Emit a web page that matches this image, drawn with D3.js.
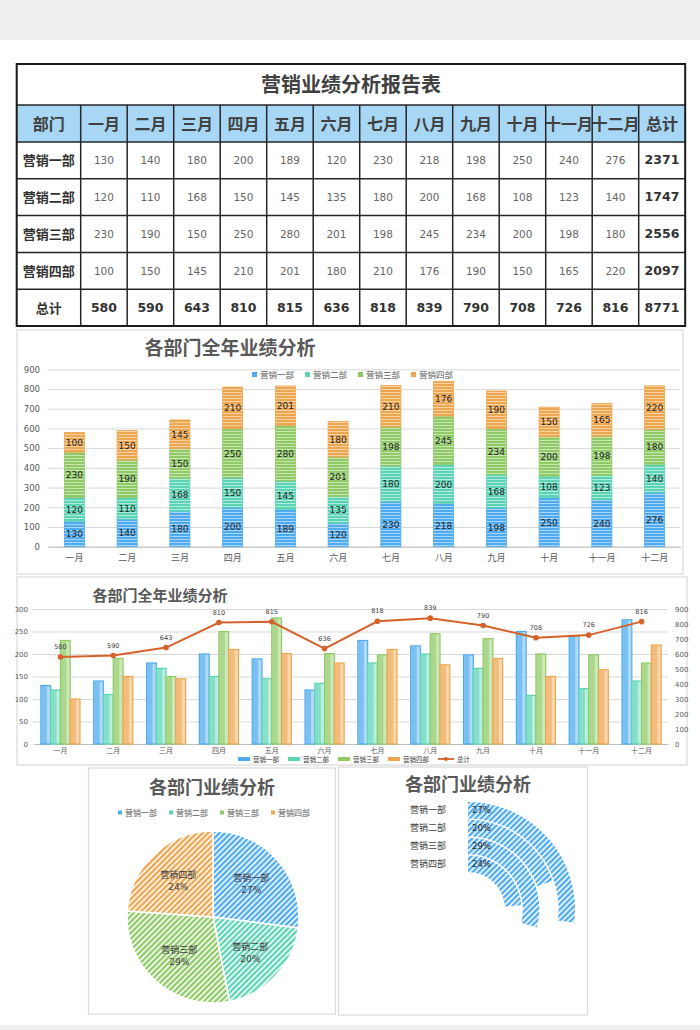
<!DOCTYPE html>
<html>
<head>
<meta charset="utf-8">
<script src="https://cdnjs.cloudflare.com/ajax/libs/d3/7.8.5/d3.min.js"></script>
<style>
  body { margin: 0; background: #fff; }
  svg { display: block; font-family: "Noto Sans CJK SC", sans-serif; }
</style>
</head>
<body>
<div id="chart"></div>
<script>
var months = ["一月", "二月", "三月", "四月", "五月", "六月", "七月", "八月", "九月", "十月", "十一月", "十二月"];
var depts = ["营销一部", "营销二部", "营销三部", "营销四部"];
var dept1 = [130, 140, 180, 200, 189, 120, 230, 218, 198, 250, 240, 276];
var dept2 = [120, 110, 168, 150, 145, 135, 180, 200, 168, 108, 123, 140];
var dept3 = [230, 190, 150, 250, 280, 201, 198, 245, 234, 200, 198, 180];
var dept4 = [100, 150, 145, 210, 201, 180, 210, 176, 190, 150, 165, 220];
var monthTotals = [580, 590, 643, 810, 815, 636, 818, 839, 790, 708, 726, 816];
var deptTotals = [2371, 1747, 2556, 2097];
var grandTotal = 8771;
var leftTicks = [0, 50, 100, 150, 200, 250, 300];
var totalTicks = [0, 100, 200, 300, 400, 500, 600, 700, 800, 900];

var deptSeries = [dept1, dept2, dept3, dept4];
var colors = ["#4fabef", "#5cd3b5", "#8fca67", "#eda650"];
var lightColors = ["#a9d6f7", "#b0ecdc", "#c7e6b1", "#f7d3a4"];
var lineColor = "#d6622b";
var gray = "#595959";
var numFont = "'DejaVu Sans', 'Noto Sans CJK SC', sans-serif";

var svg = d3.select("#chart").append("svg")
    .attr("width", 700).attr("height", 1030);

// page bands
svg.append("rect").attr("x", 0).attr("y", 0).attr("width", 700).attr("height", 40).attr("fill", "#efefef");
svg.append("rect").attr("x", 0).attr("y", 1025).attr("width", 700).attr("height", 5).attr("fill", "#efefef");

// ---- patterns ----
var defs = svg.append("defs");
colors.forEach(function (c, i) {
    // horizontal stripes for bars
    var p = defs.append("pattern").attr("id", "hs" + i)
        .attr("patternUnits", "userSpaceOnUse").attr("width", 6).attr("height", 3);
    p.append("rect").attr("width", 6).attr("height", 3).attr("fill", c);
    p.append("rect").attr("y", 2).attr("width", 6).attr("height", 1).attr("fill", lightColors[i]);
    // diagonal hatch for pie / rings
    var q = defs.append("pattern").attr("id", "dg" + i)
        .attr("patternUnits", "userSpaceOnUse").attr("width", 4).attr("height", 4)
        .attr("patternTransform", "rotate(45)");
    q.append("rect").attr("width", 4).attr("height", 4).attr("fill", "#fff");
    q.append("rect").attr("width", 2.4).attr("height", 4).attr("fill", c);
});

// ================= table =================
(function () {
    var x0 = 16.7, firstW = 64, colW = 46.5;
    var titleTop = 64, headTop = 105, headH = 37, rowH = 36.8;
    var cols = ["部门"].concat(months).concat(["总计"]);
    var right = x0 + firstW + colW * (cols.length - 1);
    var colX = function (i) { return i === 0 ? x0 : x0 + firstW + colW * (i - 1); };
    var colWidth = function (i) { return i === 0 ? firstW : colW; };

    var g = svg.append("g");
    var rows = depts.map(function (d, i) {
        return [d].concat(deptSeries[i]).concat([deptTotals[i]]);
    });
    rows.push(["总计"].concat(monthTotals).concat([grandTotal]));

    // header fill
    g.append("rect").attr("x", x0).attr("y", headTop).attr("width", right - x0).attr("height", headH)
        .attr("fill", "#a7d7f4");

    // title
    g.append("text").attr("x", (x0 + right) / 2).attr("y", (titleTop + headTop) / 2 + 7)
        .attr("text-anchor", "middle").attr("font-size", 20).attr("font-weight", "bold")
        .attr("fill", "#404040").text("营销业绩分析报告表");

    // header labels
    g.selectAll(".hd").data(cols).enter().append("text")
        .attr("x", function (d, i) { return colX(i) + colWidth(i) / 2; })
        .attr("y", headTop + headH / 2 + 6)
        .attr("text-anchor", "middle").attr("font-size", 16).attr("font-weight", "bold")
        .attr("fill", "#404040").text(function (d) { return d; });

    // body cells
    rows.forEach(function (r, ri) {
        var y = headTop + headH + rowH * ri + rowH / 2;
        var isTotal = ri === rows.length - 1;
        g.selectAll(".c" + ri).data(r).enter().append("text")
            .attr("x", function (d, i) { return colX(i) + colWidth(i) / 2; })
            .attr("y", function (d, i) { return y + (i === 0 ? 5 : 4); })
            .attr("text-anchor", "middle")
            .attr("font-family", function (d, i) { return i === 0 ? null : numFont; })
            .attr("font-size", function (d, i) {
                if (i === 0) return 13;
                return (isTotal || i === r.length - 1) ? 12.5 : 10.5;
            })
            .attr("font-weight", function (d, i) {
                return (i === 0 || isTotal || i === r.length - 1) ? "bold" : "normal";
            })
            .attr("fill", function (d, i) {
                return (i === 0 || isTotal || i === r.length - 1) ? "#333" : "#666";
            })
            .text(function (d) { return d; });
    });

    // grid lines
    var bottom = headTop + headH + rowH * rows.length;
    var hy = [headTop].concat(d3.range(rows.length + 1).map(function (i) { return headTop + headH + rowH * i; }));
    g.selectAll(".hl").data(hy).enter().append("line")
        .attr("x1", x0).attr("x2", right).attr("y1", function (d) { return d; }).attr("y2", function (d) { return d; })
        .attr("stroke", "#262626").attr("stroke-width", 1.5);
    g.selectAll(".vl").data(d3.range(1, cols.length)).enter().append("line")
        .attr("x1", colX).attr("x2", colX).attr("y1", headTop).attr("y2", bottom)
        .attr("stroke", "#262626").attr("stroke-width", 1.5);
    g.append("rect").attr("x", x0).attr("y", titleTop).attr("width", right - x0).attr("height", bottom - titleTop)
        .attr("fill", "none").attr("stroke", "#1a1a1a").attr("stroke-width", 2);
})();

// helper: box
function box(x, y, w, h) {
    svg.append("rect").attr("x", x).attr("y", y).attr("width", w).attr("height", h)
        .attr("fill", "#fff").attr("stroke", "#d9d9d9").attr("stroke-width", 1.2);
}

// ================= stacked column chart =================
(function () {
    box(17, 330, 666, 244);
    var g = svg.append("g");
    var y = d3.scaleLinear().domain([0, 900]).range([546.7, 369.3]);
    var x = d3.scaleBand().domain(months).range([48, 681]).paddingInner(0.62).paddingOuter(0.31);

    g.append("text").attr("x", 230).attr("y", 355).attr("text-anchor", "middle")
        .attr("font-size", 19).attr("font-weight", "bold").attr("fill", gray).text("各部门全年业绩分析");

    var ya = g.append("g").attr("transform", "translate(48,0)")
        .call(d3.axisLeft(y).tickValues(totalTicks).tickSize(-632).tickPadding(8));
    ya.select(".domain").remove();
    ya.selectAll(".tick line").attr("stroke", "#d9d9d9");
    ya.selectAll(".tick text").attr("font-size", 8.5).attr("font-family", numFont).attr("fill", gray);

    var xa = g.append("g").attr("transform", "translate(0,546.7)")
        .call(d3.axisBottom(x).tickSize(0).tickPadding(8));
    xa.select(".domain").attr("stroke", "#bfbfbf");
    xa.selectAll(".tick text").attr("font-size", 9).attr("fill", gray).attr("font-family", "'Noto Sans CJK SC', sans-serif");

    var table = months.map(function (m, i) {
        var o = { month: m };
        depts.forEach(function (d, j) { o[d] = deptSeries[j][i]; });
        return o;
    });
    var stacked = d3.stack().keys(depts)(table);

    var layers = g.selectAll(".layer").data(stacked).enter().append("g");
    layers.each(function (s, si) {
        var lg = d3.select(this);
        lg.selectAll("rect").data(s).enter().append("rect")
            .attr("x", function (d) { return x(d.data.month); })
            .attr("width", x.bandwidth())
            .attr("y", function (d) { return y(d[1]); })
            .attr("height", function (d) { return y(d[0]) - y(d[1]); })
            .attr("fill", "url(#hs" + si + ")")
            .attr("stroke", colors[si]).attr("stroke-width", 0.8);
        lg.selectAll("text").data(s).enter().append("text")
            .attr("x", function (d) { return x(d.data.month) + x.bandwidth() / 2; })
            .attr("y", function (d) { return (y(d[0]) + y(d[1])) / 2 + 3.5; })
            .attr("text-anchor", "middle").attr("font-size", 9).attr("font-family", numFont)
            .attr("fill", "#262626").text(function (d) { return d.data[s.key]; });
    });

    var leg = g.selectAll(".lg").data(depts).enter().append("g")
        .attr("transform", function (d, i) { return "translate(" + (252 + i * 53) + ",375)"; });
    leg.append("rect").attr("x", 0).attr("y", -3).attr("width", 5).attr("height", 5)
        .attr("fill", function (d, i) { return colors[i]; });
    leg.append("text").attr("x", 8).attr("y", 3).attr("font-size", 8.5).attr("fill", gray)
        .text(function (d) { return d; });
})();

// ================= clustered column + line chart =================
(function () {
    box(17, 577, 670, 188);
    var g = svg.append("g");
    var yL = d3.scaleLinear().domain([0, 300]).range([744, 609]);
    var yR = d3.scaleLinear().domain([0, 900]).range([744, 609]);
    var x = d3.scaleBand().domain(months).range([34, 668]).paddingInner(0.26).paddingOuter(0.13);
    var xi = d3.scaleBand().domain(depts).range([0, x.bandwidth()]);

    g.append("text").attr("x", 160).attr("y", 601).attr("text-anchor", "middle")
        .attr("font-size", 15).attr("font-weight", "bold").attr("fill", gray).text("各部门全年业绩分析");

    var ya = g.append("g").attr("transform", "translate(33,0)")
        .call(d3.axisLeft(yL).tickValues(leftTicks).tickSize(-635).tickPadding(5));
    ya.select(".domain").remove();
    ya.selectAll(".tick line").attr("stroke", "#d9d9d9");
    ya.selectAll(".tick text").attr("font-size", 7).attr("font-family", numFont).attr("fill", gray);

    var yb = g.append("g").attr("transform", "translate(668,0)")
        .call(d3.axisRight(yR).tickValues(totalTicks).tickSize(0).tickPadding(7));
    yb.select(".domain").remove();
    yb.selectAll(".tick text").attr("font-size", 7).attr("font-family", numFont).attr("fill", gray);

    var xa = g.append("g").attr("transform", "translate(0,744)")
        .call(d3.axisBottom(x).tickSize(0).tickPadding(4));
    xa.select(".domain").attr("stroke", "#bfbfbf");
    xa.selectAll(".tick text").attr("font-size", 7).attr("fill", gray).attr("font-family", "'Noto Sans CJK SC', sans-serif");

    depts.forEach(function (d, j) {
        g.append("g").selectAll("rect").data(deptSeries[j]).enter().append("rect")
            .attr("x", function (v, i) { return x(months[i]) + xi(d); })
            .attr("width", xi.bandwidth())
            .attr("y", function (v) { return yL(v); })
            .attr("height", function (v) { return yL(0) - yL(v); })
            .attr("fill", lightColors[j]).attr("fill-opacity", 0.9)
            .attr("stroke", colors[j]).attr("stroke-width", 1.2);
        g.append("g").selectAll("rect").data(deptSeries[j]).enter().append("rect")
            .attr("x", function (v, i) { return x(months[i]) + xi(d) + 0.6; })
            .attr("width", xi.bandwidth() * 0.55)
            .attr("y", function (v) { return yL(v) + 0.6; })
            .attr("height", function (v) { return yL(0) - yL(v) - 0.6; })
            .attr("fill", colors[j]).attr("fill-opacity", 0.55);
    });

    var cx = function (d, i) { return x(months[i]) + x.bandwidth() / 2; };
    var line = d3.line().x(cx).y(function (d) { return yR(d); });
    g.append("path").datum(monthTotals).attr("d", line)
        .attr("fill", "none").attr("stroke", lineColor).attr("stroke-width", 2);
    g.selectAll(".pt").data(monthTotals).enter().append("circle")
        .attr("cx", cx).attr("cy", function (d) { return yR(d); }).attr("r", 2.8).attr("fill", lineColor);
    g.selectAll(".pl").data(monthTotals).enter().append("text")
        .attr("x", cx).attr("y", function (d) { return yR(d) - 8; })
        .attr("text-anchor", "middle").attr("font-size", 6.5).attr("font-family", numFont)
        .attr("fill", "#404040").text(function (d) { return d; });

    // legend sits just under the month labels
    var legItems = depts.concat(["总计"]);
    var leg = g.selectAll(".lg").data(legItems).enter().append("g")
        .attr("transform", function (d, i) { return "translate(" + (238 + i * 50) + ",759)"; });
    leg.each(function (d, i) {
        var l = d3.select(this);
        if (i < 4) {
            l.append("rect").attr("x", 0).attr("y", -2).attr("width", 12).attr("height", 4).attr("fill", colors[i]);
        } else {
            l.append("line").attr("x1", 0).attr("x2", 16).attr("y1", 0).attr("y2", 0)
                .attr("stroke", lineColor).attr("stroke-width", 1.8);
            l.append("circle").attr("cx", 8).attr("cy", 0).attr("r", 2).attr("fill", lineColor);
        }
        l.append("text").attr("x", i < 4 ? 15 : 19).attr("y", 2.5).attr("font-size", 6.5)
            .attr("fill", "#404040").text(d);
    });
})();

// ================= pie chart =================
(function () {
    box(88.5, 768, 247, 246);
    var g = svg.append("g");
    g.append("text").attr("x", 212).attr("y", 794).attr("text-anchor", "middle")
        .attr("font-size", 18).attr("font-weight", "bold").attr("fill", gray).text("各部门业绩分析");

    var leg = g.selectAll(".lg").data(depts).enter().append("g")
        .attr("transform", function (d, i) { return "translate(" + (118 + i * 51) + ",813)"; });
    leg.append("rect").attr("x", 0).attr("y", -2.5).attr("width", 4).attr("height", 4)
        .attr("fill", function (d, i) { return colors[i]; });
    leg.append("text").attr("x", 7).attr("y", 3).attr("font-size", 8).attr("fill", gray)
        .text(function (d) { return d; });

    var pie = d3.pie().sort(null).value(function (d) { return d; });
    var arcs = pie(deptTotals);
    var arc = d3.arc().innerRadius(0).outerRadius(86);
    var labelArc = d3.arc().innerRadius(51).outerRadius(51);
    var pg = g.append("g").attr("transform", "translate(213,917)");
    pg.selectAll("path").data(arcs).enter().append("path")
        .attr("d", arc).attr("fill", function (d, i) { return "url(#dg" + i + ")"; })
        .attr("stroke", "#fff").attr("stroke-width", 1.5);
    var fmt = d3.format(".0%");
    var lab = pg.selectAll(".lb").data(arcs).enter().append("text")
        .attr("transform", function (d) { return "translate(" + labelArc.centroid(d) + ")"; })
        .attr("text-anchor", "middle").attr("font-size", 9).attr("fill", "#404040");
    lab.append("tspan").attr("x", 0).attr("dy", -2).text(function (d, i) { return depts[i]; });
    lab.append("tspan").attr("x", 0).attr("dy", 12).attr("font-family", numFont)
        .text(function (d) { return fmt(d.value / grandTotal); });
})();

// ================= radial bar chart =================
(function () {
    box(338.5, 767, 249, 248);
    var g = svg.append("g");
    g.append("text").attr("x", 468).attr("y", 791).attr("text-anchor", "middle")
        .attr("font-size", 18).attr("font-weight", "bold").attr("fill", gray).text("各部门业绩分析");

    var share = deptTotals.map(function (v) { return v / grandTotal; });
    var angle = d3.scaleLinear().domain([0, 1]).range([0, 2 * Math.PI]);
    // first department on the outer ring
    var radius = d3.scaleBand().domain(depts.slice().reverse()).range([37, 107]).paddingInner(0.08);
    var cg = g.append("g").attr("transform", "translate(468,909)");
    var arc = d3.arc()
        .innerRadius(function (d) { return radius(d.dept); })
        .outerRadius(function (d) { return radius(d.dept) + radius.bandwidth(); })
        .startAngle(0)
        .endAngle(function (d) { return angle(d.share); });
    var ringData = depts.map(function (d, i) { return { dept: d, share: share[i] }; });
    cg.selectAll("path").data(ringData).enter().append("path")
        .attr("d", arc).attr("fill", "url(#dg0)");
    var fmt = d3.format(".0%");
    var midR = function (d) { return radius(d.dept) + radius.bandwidth() / 2; };
    cg.selectAll(".nm").data(ringData).enter().append("text")
        .attr("x", -22).attr("y", function (d) { return -midR(d) + 3; })
        .attr("text-anchor", "end").attr("font-size", 9).attr("fill", "#404040")
        .text(function (d) { return d.dept; });
    cg.selectAll(".pc").data(ringData).enter().append("text")
        .attr("x", 4).attr("y", function (d) { return -midR(d) + 3; })
        .attr("font-size", 8.5).attr("font-family", numFont).attr("fill", "#262626")
        .text(function (d) { return fmt(d.share); });
})();
</script>
</body>
</html>
